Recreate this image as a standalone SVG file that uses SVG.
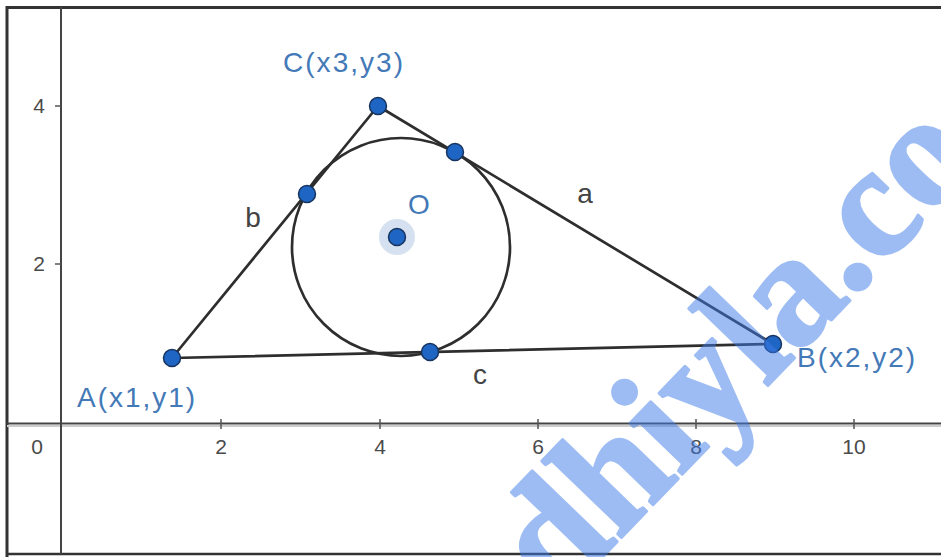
<svg xmlns="http://www.w3.org/2000/svg" width="941" height="557" viewBox="0 0 941 557">
<style>
.seg{stroke:#2e2e2e;stroke-width:2.7;fill:none;stroke-linecap:round}
.pt{fill:#1f65c4;stroke:#17345f;stroke-width:1.5}
.lbl{font-family:"Liberation Sans",Arial,sans-serif;font-size:28px;fill:#4479b8}
.side{font-family:"Liberation Sans",Arial,sans-serif;font-size:28px;fill:#444;text-anchor:middle}
.tick{font-family:"Liberation Sans",Arial,sans-serif;font-size:21px;fill:#4a4a4a;text-anchor:middle}
.axis{stroke:#444;stroke-width:2;fill:none}
.tk{stroke:#555;stroke-width:1.5}
.wm{font-family:"Liberation Serif","Times New Roman",serif;font-weight:bold;font-size:159px;fill:#3d7be8;stroke:#3d7be8;stroke-width:3;stroke-linejoin:round}
</style>
<rect width="941" height="557" fill="#fff"/>
<g id="frame">
<path d="M7,557 V7.5 H941" fill="none" stroke="#333" stroke-width="3"/>
<path d="M7,554 H941" fill="none" stroke="#333" stroke-width="2.5"/>
</g>
<g id="axes">
<line x1="7" y1="426" x2="941" y2="426" stroke="#ccc" stroke-width="2"/>
<line class="axis" x1="7" y1="423.5" x2="941" y2="423.5"/>
<line class="axis" x1="61" y1="7" x2="61" y2="554"/>
<g class="tk">
<line x1="221" y1="419" x2="221" y2="429"/>
<line x1="380" y1="419" x2="380" y2="429"/>
<line x1="538" y1="419" x2="538" y2="429"/>
<line x1="696" y1="419" x2="696" y2="429"/>
<line x1="854" y1="419" x2="854" y2="429"/>
<line x1="55" y1="106" x2="61" y2="106"/>
<line x1="55" y1="264" x2="61" y2="264"/>
</g>
<text class="tick" x="39" y="113" font-size="20">4</text>
<text class="tick" x="39" y="271" font-size="20">2</text>
<text class="tick" x="37" y="454">0</text>
<text class="tick" x="221" y="454">2</text>
<text class="tick" x="380" y="454">4</text>
<text class="tick" x="538" y="454">6</text>
<text class="tick" x="696" y="454">8</text>
<text class="tick" x="854" y="454">10</text>
</g>
<g id="connectors">
<line class="seg" x1="172" y1="358" x2="773" y2="344"/>
<line class="seg" x1="773" y1="344" x2="378" y2="106"/>
<line class="seg" x1="378" y1="106" x2="172" y2="358"/>
<circle class="seg" cx="401" cy="247" r="109"/>
</g>
<g id="side-labels">
<text class="side" x="585" y="203">a</text>
<text class="side" x="253" y="227">b</text>
<text class="side" x="480" y="384">c</text>
</g>
<g id="nodeA"><circle class="pt" cx="172" cy="358" r="8.5"/><text class="lbl" x="77" y="407" textLength="118">A(x1,y1)</text></g>
<g id="nodeB"><circle class="pt" cx="773" cy="344" r="8.5"/><text class="lbl" x="797" y="367" textLength="118">B(x2,y2)</text></g>
<g id="nodeC"><circle class="pt" cx="378" cy="106" r="8.5"/><text class="lbl" x="283" y="72" textLength="120">C(x3,y3)</text></g>
<g id="tangentAC"><circle class="pt" cx="307" cy="194" r="8.5"/></g>
<g id="tangentBC"><circle class="pt" cx="455" cy="152" r="8.5"/></g>
<g id="tangentAB"><circle class="pt" cx="430" cy="352" r="8.5"/></g>
<g id="nodeO">
<circle cx="397" cy="237" r="18" fill="#c3d4ea" fill-opacity="0.7"/>
<circle class="pt" cx="397" cy="237" r="8.5"/>
<text class="lbl" x="419" y="214" font-size="26" text-anchor="middle">O</text>
</g>
<g id="watermark" opacity="0.5">
<text class="wm" transform="translate(557 604) rotate(-46)" x="0" y="0">dhiyla.co</text>
</g>
</svg>
